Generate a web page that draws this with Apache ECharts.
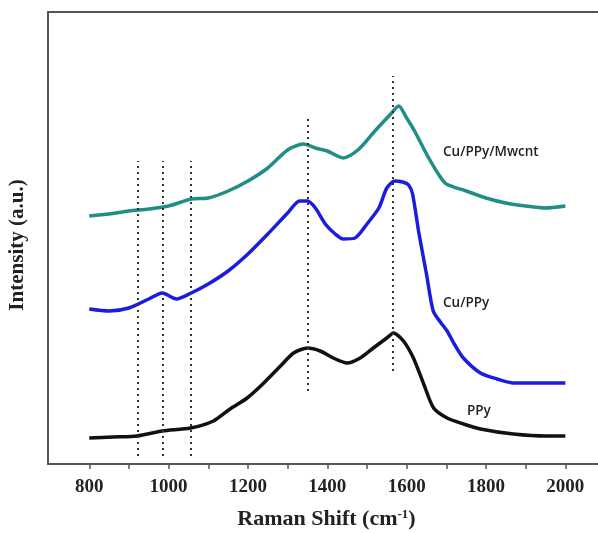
<!DOCTYPE html>
<html>
<head>
<meta charset="utf-8">
<script src="https://cdn.jsdelivr.net/npm/echarts@6/dist/echarts.min.js"></script>
<style>
html,body{margin:0;padding:0;background:#fff;}
#chart{width:598px;height:533px;}
</style>
</head>
<body>
<div id="chart"></div>
<script>
// Raman shift (cm^-1) and intensity (a.u.)
const mwcntX = [800,850,900,950,1000,1057,1100,1150,1200,1250,1300,1340,1370,1400,1440,1480,1520,1560,1580,1600,1620,1650,1680,1700,1750,1800,1850,1900,1950,2000];
const mwcntY = [248,250,253,255,258,265,266,273,283,296,314,320,316,313,306,315,333,350,358,346,333,310,290,280,273,266,261,258,256,258];

const cuppyX = [800,850,900,950,984,1020,1057,1100,1150,1200,1250,1300,1330,1350,1370,1395,1420,1440,1470,1500,1530,1550,1570,1590,1605,1615,1630,1650,1667,1685,1702,1720,1743,1786,1828,1869,1930,2000];
const cuppyY = [155,153,156,165,171,165,171,180,193,210,230,251,263,263,256,240,230,225,226,240,256,276,283,282,279,270,233,190,153,142,133,120,106,91,85,81,81,81];

const ppyX = [800,860,921,984,1055,1113,1155,1198,1240,1282,1315,1350,1382,1415,1450,1483,1516,1550,1567,1592,1617,1643,1668,1702,1743,1786,1869,1953,2000];
const ppyY = [26,27,28,33,36,43,55,66,81,98,111,116,113,106,101,106,116,126,131,123,106,80,56,46,40,35,30,28,28];

const markerPeaks = [921,984,1057,1350,1564];
const markerLow  = [8,8,8,73,93];
const markerHigh = [303,303,303,348,388];

const seriesNames = ['Cu/PPy/Mwcnt','Cu/PPy','PPy'];
const xTicks = [800,900,1000,1100,1200,1300,1400,1500,1600,1700,1800,1900,2000,2100];
const xLabels = [800,1000,1200,1400,1600,1800,2000];

function pairs(xs, ys){ return xs.map((x,i)=>[x, ys[i]]); }

const chart = echarts.init(document.getElementById('chart'));
const lineCommon = {type:'line', showSymbol:false, smooth:0.25, silent:true};
const serif = 'Liberation Serif';

chart.setOption({
  animation:false,
  backgroundColor:'#ffffff',
  grid:{left:48, top:12, width:557, bottom:69, outerBoundsMode:'none', containLabel:false},
  xAxis:[{
    type:'value', min:696, max:2100,
    name:'Raman Shift (cm{sup|-1})', nameLocation:'middle', nameGap:44,
    nameTextStyle:{fontFamily:serif, fontWeight:'bold', fontSize:22, color:'#222',
      rich:{sup:{fontFamily:serif, fontWeight:'bold', fontSize:13, color:'#222', verticalAlign:'top', padding:[0,0,10,0]}}},
    axisLine:{lineStyle:{color:'#555', width:2}},
    axisTick:{show:true, inside:false, length:5, customValues:xTicks, lineStyle:{color:'#555', width:1.5}},
    axisLabel:{margin:14, fontFamily:serif, fontWeight:'bold', fontSize:19, color:'#222',
      customValues:xLabels, formatter:v=>String(v)},
    splitLine:{show:false}
  },{
    type:'value', position:'top', min:696, max:2100,
    axisLine:{show:true, lineStyle:{color:'#555', width:2}},
    axisTick:{show:false}, axisLabel:{show:false}, splitLine:{show:false}
  }],
  yAxis:{
    type:'value', min:0, max:452,
    axisLine:{show:true, lineStyle:{color:'#555', width:2}},
    axisTick:{show:false}, axisLabel:{show:false}, splitLine:{show:false}
  },
  series:[
    Object.assign({name:seriesNames[0], data:pairs(mwcntX, mwcntY),
      lineStyle:{color:'#1f8f86', width:3.5}}, lineCommon),
    Object.assign({name:seriesNames[1], data:pairs(cuppyX, cuppyY),
      lineStyle:{color:'#1c1ce0', width:3.5}}, lineCommon),
    Object.assign({name:seriesNames[2], data:pairs(ppyX, ppyY),
      lineStyle:{color:'#111111', width:3.5}}, lineCommon),
    {type:'line', data:[], silent:true,
      markLine:{symbol:'none', silent:true, label:{show:false},
        lineStyle:{type:[2,4], color:'#333', width:2},
        data: markerPeaks.map((p,i)=>[{coord:[p, markerLow[i]]},{coord:[p, markerHigh[i]]}])}}
  ],
  graphic:[
    {type:'text', x:18, y:245, rotation:Math.PI/2,
      style:{text:'Intensity (a.u.)', font:'bold 21px "Liberation Serif"', fill:'#222', align:'center', verticalAlign:'middle'}},
    {type:'text', left:443, top:145, style:{text:seriesNames[0], font:'600 13.5px "Open Sans"', fill:'#222'}},
    {type:'text', left:443, top:296, style:{text:seriesNames[1], font:'600 13.5px "Open Sans"', fill:'#222'}},
    {type:'text', left:467, top:404, style:{text:seriesNames[2], font:'600 13.5px "Open Sans"', fill:'#222'}}
  ]
});
</script>
</body>
</html>
